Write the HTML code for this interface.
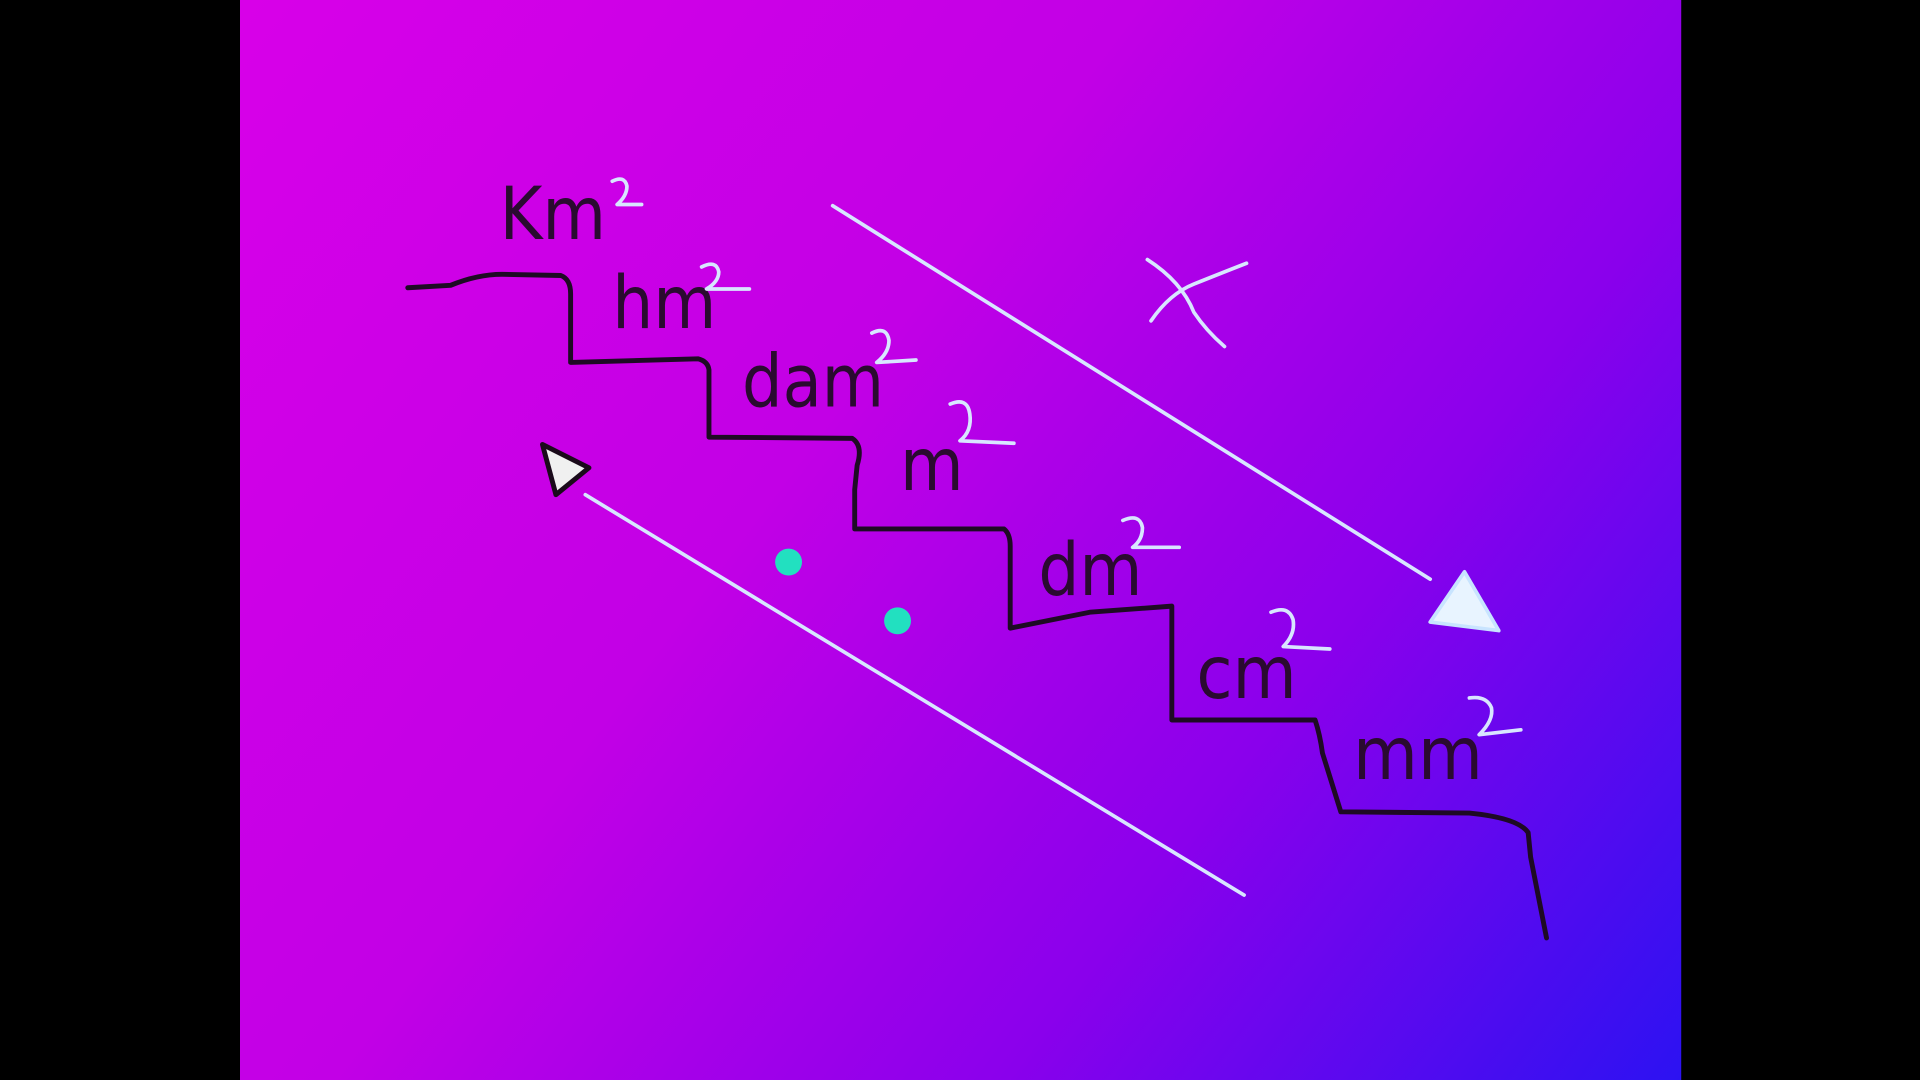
<!DOCTYPE html>
<html><head><meta charset="utf-8"><style>html,body{margin:0;padding:0;background:#000;width:1920px;height:1080px;overflow:hidden}</style></head>
<body>
<svg width="1920" height="1080" viewBox="0 0 1568 882" preserveAspectRatio="none" xmlns="http://www.w3.org/2000/svg">
<defs>
<linearGradient id="g" x1="196" y1="0" x2="1373" y2="882" gradientUnits="userSpaceOnUse">
<stop offset="0" stop-color="#d800e8"/>
<stop offset="0.4" stop-color="#c200e6"/>
<stop offset="0.7" stop-color="#8a00ec"/>
<stop offset="1" stop-color="#2c12f2"/>
</linearGradient>
</defs>
<rect x="0" y="0" width="1568" height="882" fill="#000"/>
<rect x="196" y="0" width="1177" height="882" fill="url(#g)"/>
<path d="M333,235 L368,233 Q390,224 410,224 L458,225 Q466,228 466,240 L466,296 L570,293 Q578,295 579,302 L579,357 L696,358 Q705,364 700,380 L698,400 L698,432 L820,432 Q825,436 825,446 L825,513 L890,500 L957,495 L957,588 L1074,588 Q1078,600 1080,615 L1095,663 L1200,664 Q1240,668 1248,680 L1250,700 L1263,766" fill="none" stroke="#1e0a24" stroke-width="4" stroke-linejoin="round" stroke-linecap="round"/>
<g font-family="'DejaVu Sans','Liberation Sans',sans-serif" font-size="60" fill="#2a0a30" lengthAdjust="spacingAndGlyphs">
<text x="408" y="195" textLength="87" lengthAdjust="spacingAndGlyphs">Km</text>
<text x="500" y="268" textLength="85" lengthAdjust="spacingAndGlyphs">hm</text>
<text x="606" y="332" textLength="116" lengthAdjust="spacingAndGlyphs">dam</text>
<text x="735" y="400" textLength="52" lengthAdjust="spacingAndGlyphs">m</text>
<text x="848" y="486" textLength="85" lengthAdjust="spacingAndGlyphs">dm</text>
<text x="977" y="570" textLength="82" lengthAdjust="spacingAndGlyphs">cm</text>
<text x="1105" y="636" textLength="106" lengthAdjust="spacingAndGlyphs">mm</text>
</g>
<g fill="none" stroke="#d8e6ff" stroke-width="3" stroke-linecap="round" stroke-linejoin="round">
<path d="M500,148 q10,-5 12,4 q0,8 -8,15 l20,0"/>
<path d="M573,218 q12,-6 14,4 q0,8 -10,14 l35,0"/>
<path d="M712,272 q12,-6 14,6 q0,10 -10,18 l32,-2"/>
<path d="M776,330 q14,-6 16,8 q2,14 -8,22 l44,2"/>
<path d="M917,425 q14,-6 16,6 q0,10 -8,16 l38,0"/>
<path d="M1038,500 q14,-6 18,6 q2,12 -8,22 l38,2"/>
<path d="M1200,570 q14,-2 18,8 q2,10 -10,22 l34,-4"/>
<path d="M937,212 Q965,230 975,255 Q985,270 1000,283"/>
<path d="M940,262 Q955,240 975,232 Q1000,222 1018,215"/>
<line x1="680" y1="168" x2="1168" y2="473" stroke-width="3"/>
<line x1="478" y1="404" x2="1016" y2="731" stroke-width="3"/>
</g>
<polygon points="1168,508 1224,515 1196,467" fill="#e8f4ff" stroke="#c8e4ff" stroke-width="3" stroke-linejoin="round"/>
<polygon points="443,363 481,382 454,404" fill="#f0f0f0" stroke="#1a0a1a" stroke-width="4" stroke-linejoin="round"/>
<circle cx="644" cy="459" r="11" fill="#22e0c0"/>
<circle cx="733" cy="507" r="11" fill="#22e0c0"/>
</svg>
</body></html>
